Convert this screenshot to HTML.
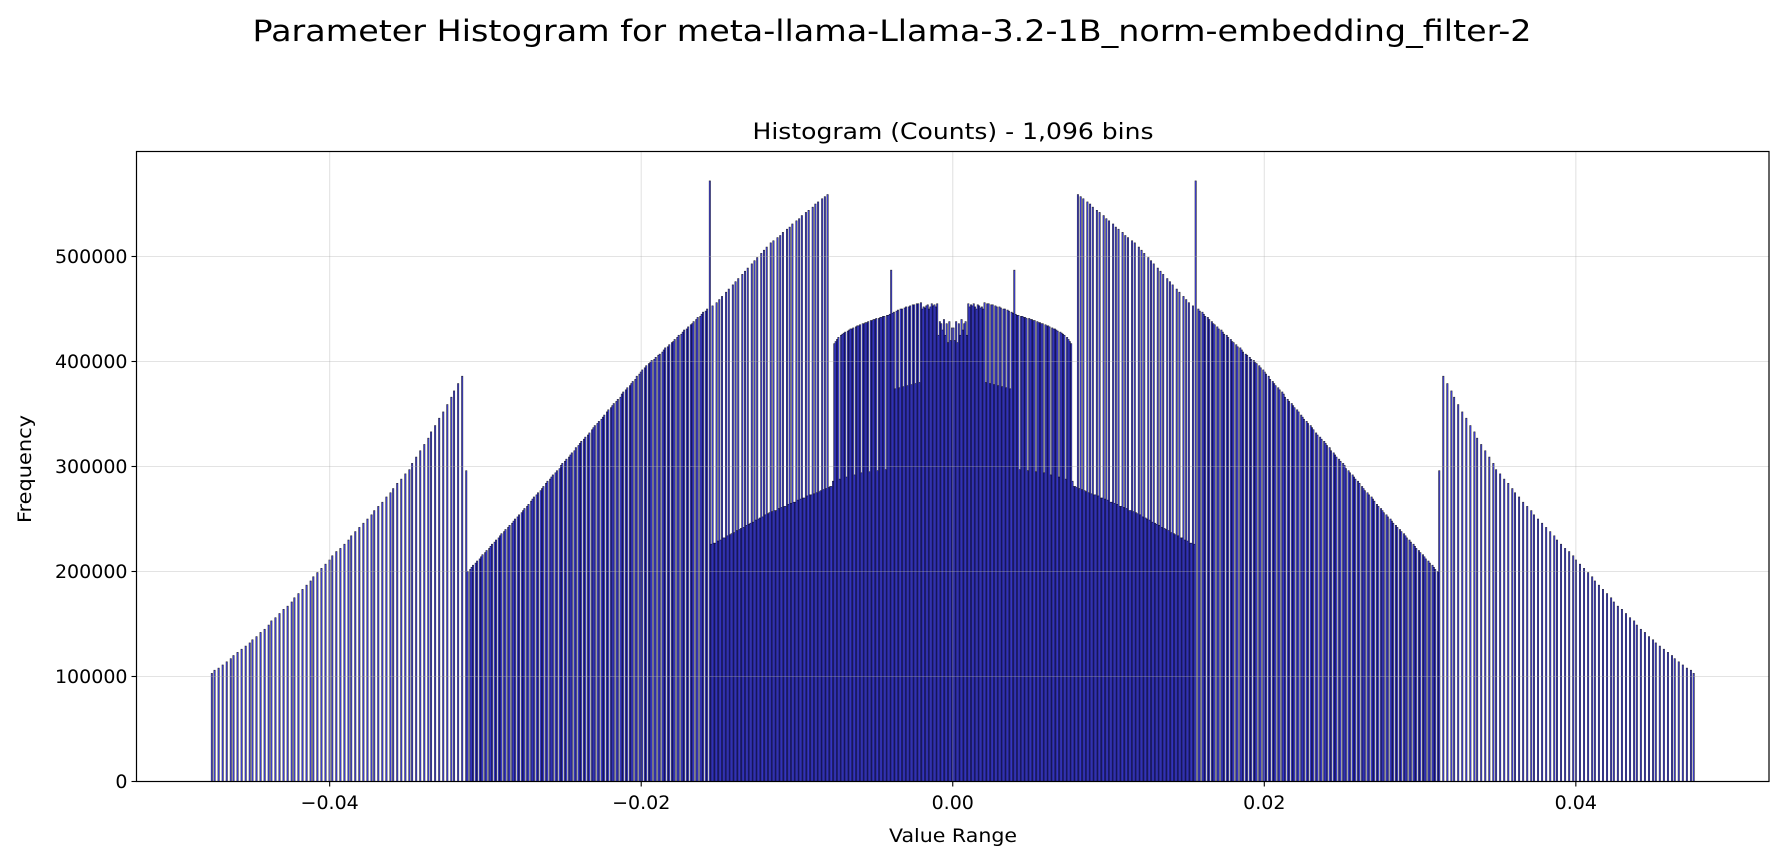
<!DOCTYPE html>
<html><head><meta charset="utf-8"><style>
html,body{margin:0;padding:0;background:#fff;}
svg{display:block;font-family:"DejaVu Sans","Liberation Sans",sans-serif;}
</style></head><body>
<svg id="chart" width="1784" height="860" viewBox="0 0 1784 860" xmlns="http://www.w3.org/2000/svg">
<rect width="1784" height="860" fill="#fff"/>
<text x="892" y="41" font-size="29" text-anchor="middle" textLength="1279" lengthAdjust="spacingAndGlyphs">Parameter Histogram for meta-llama-Llama-3.2-1B_norm-embedding_filter-2</text>
<text x="953" y="139" font-size="22" text-anchor="middle" textLength="401" lengthAdjust="spacingAndGlyphs">Histogram (Counts) - 1,096 bins</text>
<defs><clipPath id="pc"><rect x="136.5" y="151.5" width="1632.5" height="630"/></clipPath></defs>
<g id="bars" clip-path="url(#pc)"></g>
<g id="grid"></g>
<rect x="136.5" y="151.5" width="1632.5" height="630" fill="none" stroke="#000" stroke-width="1.2"/>
<g id="xticks"></g>
<g id="yticks"></g>
<text x="953" y="842" font-size="19" text-anchor="middle" textLength="128" lengthAdjust="spacingAndGlyphs">Value Range</text>
<text transform="translate(31,469) rotate(-90)" font-size="19" text-anchor="middle" textLength="108" lengthAdjust="spacingAndGlyphs">Frequency</text>
</svg>
<script>
// histogram setup
const rangeLo = -0.047607, rangeHi = 0.047607, nBins = 1096;
// representable-value counts (thousands), mirrored on both sides
const outerStart = 0.03125, outerStep = 0.00024414;
const outerCounts = [296,386,379,372,366,359,352,346,339,333,327,321,315,309,303,297,
293,288,284,279,275,271,266,262,258,254,250,246,242,238,234,230,226,222,219,215,211,
207,203,199,195,191,187,183,179,175,171,167,164,160,156,153,149,145,142,138,135,
132,129,126,123,120,117,114,111,108,106,103];
const midStart = 0.015625, midStep = 0.00012207;
const midCounts = [452,450,448,447,445,443,442,440,438,436,435,433,431,430,428,426,
425,423,421,419,418,416,414,413,411,409,407,406,404,402,401,399,
398,396,394,392,390,388,386,383,381,379,377,375,373,371,369,366,
364,362,360,358,356,354,352,349,347,345,343,341,339,337,335,332,
330,328,326,324,322,320,318,315,313,311,309,307,305,303,301,298,
296,294,292,290,288,286,284,281,279,277,275,273,271,269,267,264,
262,260,258,256,254,252,250,248,246,244,242,240,238,236,234,232,
230,228,226,224,222,220,218,216,214,212,210,208,206,204,202,200];
const innerStart = 0.0078125, innerStep = 0.000061035;
const innerCounts = [281,281,280,280,279,279,279,278,278,278,277,277,276,276,276,275,
275,275,274,274,273,273,273,272,272,272,271,271,270,270,270,269,
269,268,268,268,267,267,266,266,266,265,265,264,264,264,263,263,
262,262,262,261,261,260,260,260,259,259,258,258,258,257,257,257,
256,256,255,255,254,254,253,253,252,252,251,251,250,250,249,249,
248,248,247,247,246,246,245,245,244,244,243,243,242,242,241,241,
240,240,239,239,238,238,237,237,236,236,235,235,234,234,233,233,
232,232,231,231,230,230,229,229,228,228,227,227,227,226,226,120];
// per-bin counts (thousands) near zero, from centre outward
const coreCounts = [432,420,438,418,436,425,440,430,436,438,425,
455,452,454,453,455,452,450,454,453,451,452,450,
456,380,455,455,379,454,454,378,453,452,377,452,451,376,450,450,375,449,448,374,447,446,487,
445,444,444,297,443,443,442,442,441,296,441,440,440,439,439,295,438,437,437,436,
436,294,435,434,434,433,292,432,431,431,430,429,290,428,427,426,425,288,423,421,419,417,286];
const xTicks = [-0.04,-0.02,0,0.02,0.04];
const xTickLabels = ["\u22120.04","\u22120.02","0.00","0.02","0.04"];
const yTicks = [0,100000,200000,300000,400000,500000];
const yTickLabels = ["0","100000","200000","300000","400000","500000"];

const X0=136.5, X1=1769, Y0=781.5, Y1=151.5, XMIN=-0.0524, XMAX=0.0524, YMAX=600000;
const xs = v => X0 + (v - XMIN) / (XMAX - XMIN) * (X1 - X0);
const ys = v => Y0 - v / YMAX * (Y0 - Y1);
const NS = "http://www.w3.org/2000/svg";
const binW = (rangeHi - rangeLo) / nBins;
const bins = new Array(nBins).fill(0);
function addVal(v, c) {
  let b = Math.floor((v - rangeLo) / binW);
  if (b >= nBins) b = nBins - 1;
  if (b < 0) b = 0;
  bins[b] += c * 1000;
}
[[outerStart,outerStep,outerCounts],[midStart,midStep,midCounts],[innerStart,innerStep,innerCounts]].forEach(([s,st,arr])=>{
  arr.forEach((c,k)=>{ const v = s + k*st; addVal(v,c); addVal(-v,c); });
});
coreCounts.forEach((c,i)=>{ const v=(i+0.5)*binW; addVal(v,c); addVal(-v,c); });

const gBars = document.getElementById('bars');
bins.forEach((c,b)=>{
  if (c <= 0) return;
  const left = rangeLo + b*binW;
  const r = document.createElementNS(NS,'rect');
  r.setAttribute('x', xs(left));
  r.setAttribute('width', xs(left+binW) - xs(left));
  r.setAttribute('y', ys(c));
  r.setAttribute('height', Y0 - ys(c));
  r.setAttribute('fill', 'rgba(0,0,255,0.7)');
  r.setAttribute('stroke', '#000');
  r.setAttribute('stroke-opacity', '0.8');
  r.setAttribute('stroke-width', '0.6');
  
  
  gBars.appendChild(r);
});

const gGrid = document.getElementById('grid');
const gx = document.getElementById('xticks');
const gy = document.getElementById('yticks');
function line(g,x1,y1,x2,y2,stroke,w,op){
  const l=document.createElementNS(NS,'line');
  l.setAttribute('x1',x1);l.setAttribute('y1',y1);l.setAttribute('x2',x2);l.setAttribute('y2',y2);
  l.setAttribute('stroke',stroke);l.setAttribute('stroke-width',w);
  if(op!==undefined) l.setAttribute('stroke-opacity',op);
  g.appendChild(l); return l;
}
xTicks.forEach((t,i)=>{
  const x=xs(t);
  const gl=line(gGrid,x,Y1,x,Y0,'#b0b0b0',1.1,0.35);
  
  
  const tk=line(gx,x,Y0,x,Y0+5,'#000',1.1);
  
  
  const tx=document.createElementNS(NS,'text');
  tx.setAttribute('x',x);tx.setAttribute('y',809);tx.setAttribute('font-size','19');
  tx.setAttribute('text-anchor','middle');
  tx.textContent=xTickLabels[i];
  
  
  gx.appendChild(tx);
});
yTicks.forEach((t,i)=>{
  const y=ys(t);
  const gl=line(gGrid,X0,y,X1,y,'#b0b0b0',1.1,0.35);
  
  
  const tk=line(gy,X0-5,y,X0,y,'#000',1.1);
  
  
  const tx=document.createElementNS(NS,'text');
  tx.setAttribute('x',X0-9);tx.setAttribute('y',y+6.5);tx.setAttribute('font-size','19');
  tx.setAttribute('text-anchor','end');
  tx.textContent=yTickLabels[i];
  
  
  gy.appendChild(tx);
});
</script>
</body></html>
